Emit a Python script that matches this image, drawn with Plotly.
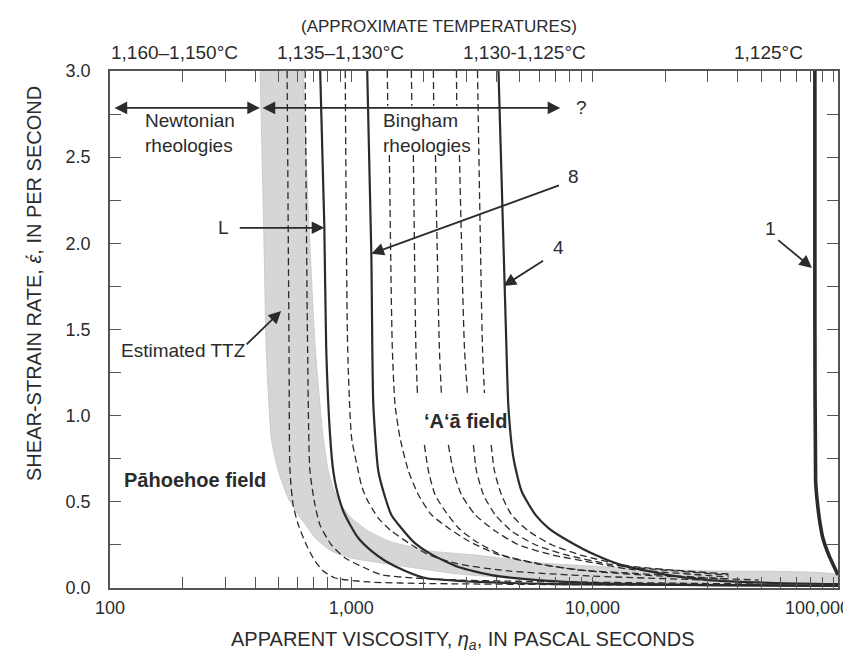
import math
import plotly.graph_objects as go

# ---------------- data ----------------
# Estimated TTZ band polygon (apparent viscosity Pa s, strain rate 1/s)
band_x = [419, 436, 444, 466, 498, 548, 586, 644, 709, 826, 1000, 1331, 1844, 2780, 5425,
          14100, 40360, 104000, 104000, 30300, 14100, 6140, 3270, 2088, 1844, 1425, 1177,
          1000, 909, 842, 803, 765, 709, 663, 632]
band_y = [3.0, 1.92, 1.39, 0.87, 0.68, 0.52, 0.45, 0.37, 0.29, 0.215, 0.174, 0.145, 0.116,
          0.081, 0.052, 0.035, 0.023, 0.017, 0.075, 0.099, 0.116, 0.145, 0.191, 0.215, 0.232,
          0.273, 0.331, 0.406, 0.482, 0.58, 0.68, 0.87, 1.39, 2.2, 3.0]

# Solid curves
L_x = [743, 773, 787, 818, 842, 867, 926, 990, 1069, 1211, 1384, 1675, 2028, 3365, 7230, 30300, 104000]
L_y = [3.0, 2.106, 1.393, 0.871, 0.679, 0.58, 0.447, 0.366, 0.29, 0.215, 0.157, 0.099, 0.058, 0.035, 0.023, 0.017, 0.012]

c8_x = [1164, 1211, 1222, 1234, 1294, 1384, 1466, 1611, 1820, 2150, 2780, 3811, 6140, 11650, 30300, 104000]
c8_y = [3.0, 1.932, 1.393, 1.062, 0.679, 0.522, 0.424, 0.348, 0.265, 0.195, 0.122, 0.075, 0.044, 0.026, 0.017, 0.012]

c4_x = [4074, 4315, 4395, 4480, 4700, 5075, 5800, 6565, 7945, 10290, 13190, 20660, 30300, 57440, 104000]
c4_y = [3.0, 1.781, 1.393, 1.045, 0.754, 0.563, 0.424, 0.348, 0.273, 0.191, 0.133, 0.075, 0.046, 0.029, 0.023]

c1_x = [83400, 83400, 84000, 85500, 87500, 90000, 95300, 104000]
c1_y = [3.0, 1.6, 0.62, 0.49, 0.38, 0.29, 0.191, 0.075]

# Dashed curves (None = gap behind labels)
d1_x = [542, 552, 557, 574, 603, 651, 707, 765, 858, 1177, 2088, 7230, 30300]
d1_y = [3.0, 1.393, 0.679, 0.483, 0.367, 0.251, 0.157, 0.099, 0.058, 0.035, 0.026, 0.020, 0.017]

d2_x = [644, 659, 674, 707, 741, 826, 942, 1140, 1331, 1837, 2780, 5425, 18790, 48840]
d2_y = [3.0, 1.393, 0.679, 0.483, 0.367, 0.251, 0.174, 0.116, 0.077, 0.058, 0.046, 0.038, 0.029, 0.023]

d3_x = [944, 966, 1003, 1069, 1100, 1153, 1294, 1466, 1774, 2088, 2780, 4480, 9620, 30300]
d3_y = [3.0, 1.393, 0.871, 0.679, 0.599, 0.522, 0.406, 0.331, 0.251, 0.193, 0.139, 0.099, 0.070, 0.046]

d4_x = [1410, 1416, None, 1438, 1479, 1518, 1592, 1725, 1897, 2148, 2525, 3058, 4074, 5970, 9620, 18790, 48840]
d4_y = [3.0, 2.797, None, 2.513, 1.393, 1.064, 0.871, 0.679, 0.541, 0.425, 0.348, 0.273, 0.193, 0.139, 0.099, 0.070, 0.046]

d5_x = [1774, 1782, None, 1808, 1852, 1879, None, 2009, 2088, 2225, 2447, 2780, 3261, 4190, 5785, 8475, 14100, 36650]
d5_y = [3.0, 2.797, None, 2.513, 1.393, 1.132, None, 0.830, 0.679, 0.541, 0.447, 0.348, 0.273, 0.193, 0.145, 0.106, 0.087, 0.052]

d6_x = [2189, 2195, None, 2232, 2317, 2362, None, 2525, 2650, 2860, 3261, 3946, 4930, 6760, 10260, 14100, 36650]
d6_y = [3.0, 2.797, None, 2.513, 1.393, 1.132, None, 0.830, 0.679, 0.541, 0.425, 0.331, 0.251, 0.193, 0.145, 0.110, 0.064]

d7_x = [2728, 2735, None, 2806, 2944, 3029, None, 3208, 3302, 3530, 3946, 4613, 5785, 7705, 11650, 14100, 36650]
d7_y = [3.0, 2.797, None, 2.513, 1.393, 1.132, None, 0.830, 0.679, 0.541, 0.425, 0.331, 0.251, 0.193, 0.139, 0.122, 0.075]

d8_x = [3334, 3497, 3564, None, 3801, 3920, 4190, 4613, 5425, 6760, 8995, 14100, 36650]
d8_y = [3.0, 1.393, 1.132, None, 0.830, 0.679, 0.541, 0.425, 0.331, 0.251, 0.190, 0.128, 0.081]

# Axis ticks
x_tickvals = [100, 200, 300, 400, 500, 600, 700, 800, 900,
              1000, 2000, 3000, 4000, 5000, 6000, 7000, 8000, 9000,
              10000, 20000, 30000, 40000, 50000, 60000, 70000, 80000, 90000, 100000]
x_ticktext = ["100"] + [""] * 8 + ["1,000"] + [""] * 8 + ["10,000"] + [""] * 8 + [""]
last_x_label = "100,000"
y_tickvals = [0, 0.25, 0.5, 0.75, 1.0, 1.25, 1.5, 1.75, 2.0, 2.25, 2.5, 2.75, 3.0]
y_ticktext = ["0.0", "", "0.5", "", "1.0", "", "1.5", "", "2.0", "", "2.5", "", "3.0"]

temp_labels = ["1,160–1,150°C", "1,135–1,130°C", "1,130-1,125°C", "1,125°C"]

# ---------------- figure ----------------
INK = "#2b2b2b"
FONT = "Liberation Sans, Arial, sans-serif"

fig = go.Figure()

fig.add_trace(go.Scatter(x=band_x, y=band_y, mode="lines", fill="toself",
                         fillcolor="#d6d6d6",
                         line=dict(color="#c4c4c4", width=0.8, shape="spline", smoothing=0.5),
                         hoverinfo="skip", showlegend=False))

for dx, dy in [(d1_x, d1_y), (d2_x, d2_y), (d3_x, d3_y), (d4_x, d4_y),
               (d5_x, d5_y), (d6_x, d6_y), (d7_x, d7_y), (d8_x, d8_y)]:
    fig.add_trace(go.Scatter(x=dx, y=dy, mode="lines",
                             line=dict(color=INK, width=1.3, dash="7px,4px", shape="spline", smoothing=0.6),
                             connectgaps=False, showlegend=False, hoverinfo="skip"))

for sx, sy in [(L_x, L_y), (c8_x, c8_y), (c4_x, c4_y)]:
    fig.add_trace(go.Scatter(x=sx, y=sy, mode="lines",
                             line=dict(color=INK, width=2.2, shape="spline", smoothing=0.6),
                             showlegend=False, hoverinfo="skip"))

fig.add_trace(go.Scatter(x=c1_x, y=c1_y, mode="lines",
                         line=dict(color=INK, width=3.6, shape="spline", smoothing=0.4),
                         showlegend=False, hoverinfo="skip"))

lg = math.log10
ann = []

def arrow(x_tip, y_tip, x_tail, y_tail, both=False):
    ann.append(dict(x=lg(x_tip), y=y_tip, ax=lg(x_tail), ay=y_tail,
                    xref="x", yref="y", axref="x", ayref="y", text="",
                    showarrow=True, arrowhead=2, arrowsize=1.4, arrowwidth=1.8,
                    arrowcolor=INK, arrowside="end+start" if both else "end",
                    startarrowhead=2, startarrowsize=1.4))

def label(x, y, text, size=19, bold=False, xanchor="center", align="center"):
    t = "<b>%s</b>" % text if bold else text
    ann.append(dict(x=lg(x), y=y, xref="x", yref="y", text=t, showarrow=False,
                    xanchor=xanchor, yanchor="middle", align=align,
                    font=dict(family=FONT, size=size, color=INK)))

def paper_label(px, py, text, size=19, angle=0, xanchor="center"):
    ann.append(dict(x=px, y=py, xref="paper", yref="paper", text=text, showarrow=False,
                    xanchor=xanchor, yanchor="middle", textangle=angle,
                    font=dict(family=FONT, size=size, color=INK)))

# range arrows
arrow(418, 2.786, 103, 2.786, both=True)
arrow(7345, 2.786, 423, 2.786, both=True)
label(8990, 2.786, "?")
label(137, 2.64, "Newtonian<br>rheologies", xanchor="left", align="left")
label(1332, 2.64, "Bingham<br>rheologies", xanchor="left", align="left")

# curve labels
label(294, 2.09, "L")
arrow(773, 2.09, 340, 2.09)
label(8340, 2.39, "8")
arrow(1211, 1.94, 7360, 2.339)
label(7230, 1.973, "4")
arrow(4275, 1.753, 6325, 1.904)
label(54800, 2.089, "1")
arrow(81100, 1.857, 57940, 2.026)
label(201, 1.381, "Estimated TTZ")
arrow(512, 1.608, 363, 1.405)

label(225, 0.627, "Pāhoehoe field", size=20, bold=True)
label(2972, 0.969, "‘A‘ā field", size=20, bold=True)

# top temperature labels
paper_label(0.452, 1.087, "(APPROXIMATE TEMPERATURES)", size=17)
for px, t in zip([0.0889, 0.3173, 0.5696, 0.904], temp_labels):
    paper_label(px, 1.035, t, size=19)

# last x tick label, pulled inside the page edge
paper_label(1.0195, -0.039, last_x_label, size=18, xanchor="right")

# axis titles
paper_label(0.485, -0.1025, "APPARENT VISCOSITY, <i>η<sub>a</sub></i>, IN PASCAL SECONDS", size=20)
paper_label(-0.1044, 0.59, "SHEAR-STRAIN RATE, <i>έ</i>, IN PER SECOND", size=20, angle=-90)

fig.update_layout(
    width=851, height=656,
    margin=dict(l=102, r=21, t=63, b=76),
    paper_bgcolor="white", plot_bgcolor="white",
    font=dict(family=FONT, size=18, color=INK),
    annotations=ann,
    showlegend=False,
)

fig.update_xaxes(type="log", range=[2, lg(104000)],
                 tickvals=x_tickvals, ticktext=x_ticktext,
                 ticks="inside", ticklen=11, tickwidth=1.2, tickcolor="#555",
                 showline=True, linecolor="#555", linewidth=1.5, mirror="ticks",
                 showgrid=False, zeroline=False, ticklabelstandoff=3,
                 tickfont=dict(family=FONT, size=18, color=INK))
fig.update_yaxes(range=[0, 3.0], tickvals=y_tickvals, ticktext=y_ticktext,
                 ticks="inside", ticklen=11, tickwidth=1.2, tickcolor="#555",
                 showline=True, linecolor="#555", linewidth=1.5, mirror="ticks",
                 showgrid=False, zeroline=False, ticklabelstandoff=14,
                 tickfont=dict(family=FONT, size=18, color=INK))

fig.write_html("out.html")
